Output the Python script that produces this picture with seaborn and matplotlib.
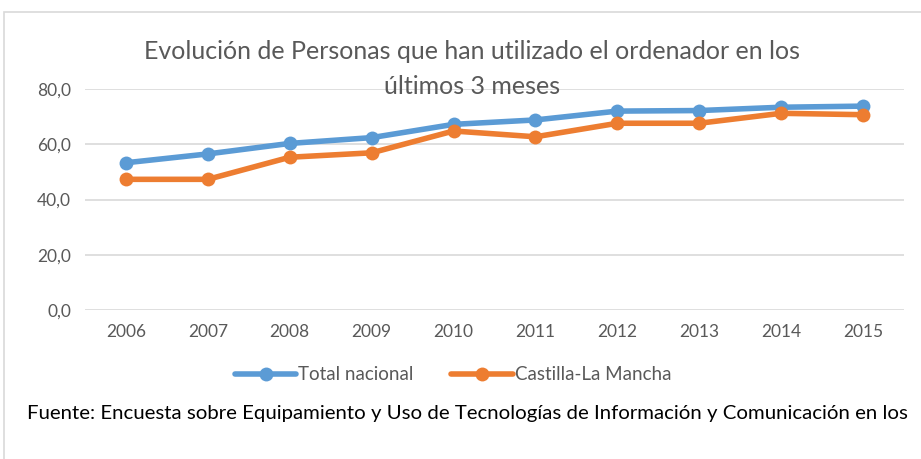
import matplotlib
matplotlib.use("Agg")
import matplotlib.pyplot as plt
from matplotlib.patches import Rectangle
from matplotlib.ticker import FuncFormatter
import seaborn as sns
import pandas as pd

# Data
years = [2006, 2007, 2008, 2009, 2010, 2011, 2012, 2013, 2014, 2015]
total_nacional = [53.3, 56.5, 60.3, 62.4, 67.2, 68.8, 72.0, 72.2, 73.4, 73.8]
castilla_la_mancha = [47.3, 47.3, 55.3, 56.9, 64.8, 62.7, 67.6, 67.6, 71.2, 70.7]
series_names = ["Total nacional", "Castilla-La Mancha"]
colors = ["#5B9BD5", "#ED7D31"]

df = pd.DataFrame({
    "Año": [str(y) for y in years] * 2,
    "Valor": total_nacional + castilla_la_mancha,
    "Serie": [series_names[0]] * len(years) + [series_names[1]] * len(years),
})

sns.set_theme(style="white")
plt.rcParams["font.family"] = ["Lato", "DejaVu Sans"]

W, H = 921, 459
fig = plt.figure(figsize=(W / 100, H / 100), dpi=100)

# chart border (cropped on right/bottom in the original)
fig.patches.append(Rectangle((4 / W, -0.1), 1.2, (H - 12) / H + 0.1,
                             transform=fig.transFigure, fill=False,
                             edgecolor="#D9D9D9", linewidth=1.2))

ax = fig.add_axes([85 / W, (H - 310) / H, (904 - 85) / W, (310 - 89) / H])
sns.lineplot(data=df, x="Año", y="Valor", hue="Serie", palette=colors,
             marker="o", markersize=10, markeredgewidth=0, linewidth=4,
             ax=ax, legend=True, sort=False)

ax.set_ylim(0, 80)
ax.set_xlim(-0.5, len(years) - 0.5)
ax.set_yticks([0, 20, 40, 60, 80])
ax.yaxis.set_major_formatter(FuncFormatter(lambda v, p: f"{v:.1f}".replace(".", ",")))
ax.grid(axis="y", color="#D9D9D9", linewidth=1.2)
ax.set_axisbelow(True)
for s in ax.spines.values():
    s.set_visible(False)
ax.tick_params(axis="both", length=0, labelsize=12.5, colors="#595959", pad=10)
ax.set_xlabel("")
ax.set_ylabel("")

handles, labels = ax.get_legend_handles_labels()
ax.legend(handles, labels, loc="center", bbox_to_anchor=(453 / W, (H - 375) / H),
          bbox_transform=fig.transFigure, ncol=2, frameon=False, fontsize=13.5,
          handlelength=3.3, handletextpad=0.1, columnspacing=2.0,
          labelcolor="#595959")

fig.text(472 / W, (H - 69) / H,
         "Evolución de Personas que han utilizado el ordenador en los\núltimos 3 meses",
         ha="center", va="center", fontsize=18, color="#595959", linespacing=1.6)

fig.text(467 / W, (H - 413) / H,
         "Fuente: Encuesta sobre Equipamiento y Uso de Tecnologías de Información y Comunicación en los",
         ha="center", va="center", fontsize=14.7, color="black")

fig.savefig("out.png", dpi=100)
